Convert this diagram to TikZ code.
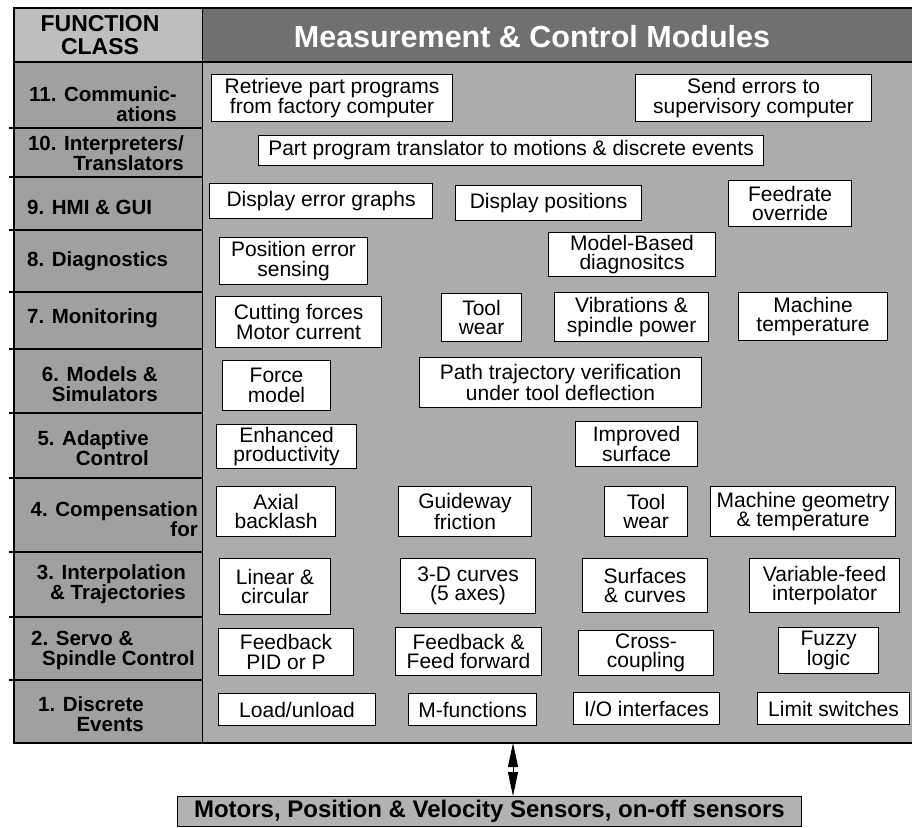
\documentclass[tikz,border=0pt]{standalone}
\usepackage{fontspec}
\setmainfont{Liberation Sans}
\usetikzlibrary{arrows.meta,positioning}
\definecolor{bandcol}{RGB}{112,112,112}
\definecolor{panelcol}{RGB}{172,172,172}
\definecolor{classcol}{RGB}{160,160,160}
\definecolor{headcol}{RGB}{190,190,190}
\definecolor{drivecol}{RGB}{178,178,178}

\begin{document}
\begin{tikzpicture}[x=1pt, y=-1pt,
    module/.style={draw, fill=white, line width=1.1pt, anchor=north west, inner sep=1pt, align=center, font=\fontsize{21}{19.5}\selectfont},
    rowlabel/.style={align=right, inner sep=0pt, font=\bfseries\fontsize{20.5}{20}\selectfont},
    rule/.style={line width=1.3pt},
]
\useasboundingbox (0,0) rectangle (912,827);
% shaded areas
\fill[panelcol] (202,62) rectangle (912,743);
\fill[classcol] (14,62) rectangle (202,743);
\fill[headcol] (14,8) rectangle (202,62);
\fill[bandcol] (202,8) rectangle (912,62);
% frame and row rules
\draw[rule] (912,8) -- (14,8) -- (14,743) -- (912,743);
\draw[rule] (14,62) -- (912,62);
\draw[line width=0.9pt] (202,8) -- (202,743);
\foreach \y in {128,177,230,292,349,413,478,552,617,680} {
    \draw[rule] (9,\y) -- (202,\y);
}

\node[font=\bfseries\fontsize{23}{23}\selectfont, align=center] (fclass) at (100,35) {FUNCTION\\CLASS};
\node[font=\bfseries\fontsize{30.5}{31}\selectfont, text=white] (title) at (532,37) {Measurement \& Control Modules};

% function classes
\node[rowlabel, anchor=east] (c11) at (177,104) {11. Communic-\\ations};
\node[rowlabel, anchor=east] (c10) at (184,153) {10. Interpreters/\\Translators};
\node[rowlabel, anchor=west] (c9) at (27,207) {9. HMI \& GUI};
\node[rowlabel, anchor=west] (c8) at (27,261) {8. Diagnostics};
\node[rowlabel, anchor=west] (c7) at (27,318) {7. Monitoring};
\node[rowlabel, anchor=east] (c6) at (158,384) {6. Models \&\\Simulators};
\node[rowlabel, anchor=east] (c5) at (149,448) {5. Adaptive\\Control};
\node[rowlabel, anchor=east] (c4) at (198,519) {4. Compensation\\for};
\node[rowlabel, anchor=east] (c3) at (186,584) {3. Interpolation\\\& Trajectories};
\node[rowlabel, anchor=west, align=left] (c2) at (31,650) {2. Servo \&\\\hspace*{11pt}Spindle Control};
\node[rowlabel, anchor=east] (c1) at (144,714) {1. Discrete\\Events};

% modules
\node[module, minimum width=241pt, minimum height=47pt] (retrieve) at (211,74) {Retrieve part programs\\from factory computer};
\node[module, minimum width=236pt, minimum height=47pt] (senderr) at (635,74) {Send errors to\\supervisory computer};
\node[module, minimum width=505pt, minimum height=30pt] (translator) at (258,135) {Part program translator to motions \& discrete events};
\node[module, minimum width=223pt, minimum height=35pt] (errgraph) at (209,183) {Display error graphs};
\node[module, minimum width=186pt, minimum height=35pt] (dispos) at (455,185) {Display positions};
\node[module, minimum width=123pt, minimum height=46pt] (feedrate) at (728,180) {Feedrate\\override};
\node[module, minimum width=148pt, minimum height=47pt] (poserr) at (219,237) {Position error\\sensing};
\node[module, minimum width=167pt, minimum height=44pt] (modeldiag) at (548,232) {Model-Based\\diagnositcs};
\node[module, minimum width=166pt, minimum height=51pt] (cutforce) at (215,296) {Cutting forces\\Motor current};
\node[module, minimum width=80pt, minimum height=48pt] (toolmon) at (441,293) {Tool\\wear};
\node[module, minimum width=154pt, minimum height=49pt] (vibration) at (554,292) {Vibrations \&\\spindle power};
\node[module, minimum width=149pt, minimum height=48pt] (machtemp) at (738,292) {Machine\\temperature};
\node[module, minimum width=108pt, minimum height=50pt] (forcemod) at (222,360) {Force\\model};
\node[module, minimum width=282pt, minimum height=50pt] (pathver) at (419,357) {Path trajectory verification\\under tool deflection};
\node[module, minimum width=140pt, minimum height=44pt] (product) at (216,424) {Enhanced\\productivity};
\node[module, minimum width=122pt, minimum height=45pt] (surface) at (575,421) {Improved\\surface};
\node[module, minimum width=119pt, minimum height=50pt] (backlash) at (216,486) {Axial\\backlash};
\node[module, minimum width=133pt, minimum height=50pt] (guideway) at (398,486) {Guideway\\friction};
\node[module, minimum width=83pt, minimum height=50pt] (toolcomp) at (604,486) {Tool\\wear};
\node[module, minimum width=185pt, minimum height=50pt] (geometry) at (710,486) {Machine geometry\\\& temperature};
\node[module, minimum width=111pt, minimum height=56pt] (linear) at (219,558) {Linear \&\\circular};
\node[module, minimum width=135pt, minimum height=55pt] (curves) at (400,558) {3-D curves\\(5 axes)};
\node[module, minimum width=125pt, minimum height=54pt] (surfcurv) at (582,558) {Surfaces\\\& curves};
\node[module, minimum width=150pt, minimum height=54pt] (varfeed) at (749,558) {Variable-feed\\interpolator};
\node[module, minimum width=135pt, minimum height=47pt] (pid) at (218,628) {Feedback\\PID or P};
\node[module, minimum width=146pt, minimum height=48pt] (feedfwd) at (395,627) {Feedback \&\\Feed forward};
\node[module, minimum width=135pt, minimum height=45pt] (crosscpl) at (578,630) {Cross-\\coupling};
\node[module, minimum width=100pt, minimum height=46pt] (fuzzy) at (778,627) {Fuzzy\\logic};
\node[module, minimum width=157pt, minimum height=32pt] (loadunl) at (218,693) {Load/unload};
\node[module, minimum width=128pt, minimum height=32pt] (mfunc) at (408,693) {M-functions};
\node[module, minimum width=146pt, minimum height=32pt] (iointf) at (573,692) {I/O interfaces};
\node[module, minimum width=152pt, minimum height=32pt] (limitsw) at (757,692) {Limit switches};

% hardware below
\node[draw, fill=drivecol, line width=0.8pt, anchor=north west, minimum width=624pt, minimum height=30pt, font=\bfseries\fontsize{24}{25}\selectfont] (drives) at (177,796) {Motors, Position \& Velocity Sensors, on-off sensors};
\coordinate (busout) at (513,743);
\draw[{Triangle[length=24pt,width=10pt]}-{Triangle[length=24pt,width=10pt]}, line width=1pt] (busout) -- (busout |- drives.north);
\end{tikzpicture}
\end{document}
